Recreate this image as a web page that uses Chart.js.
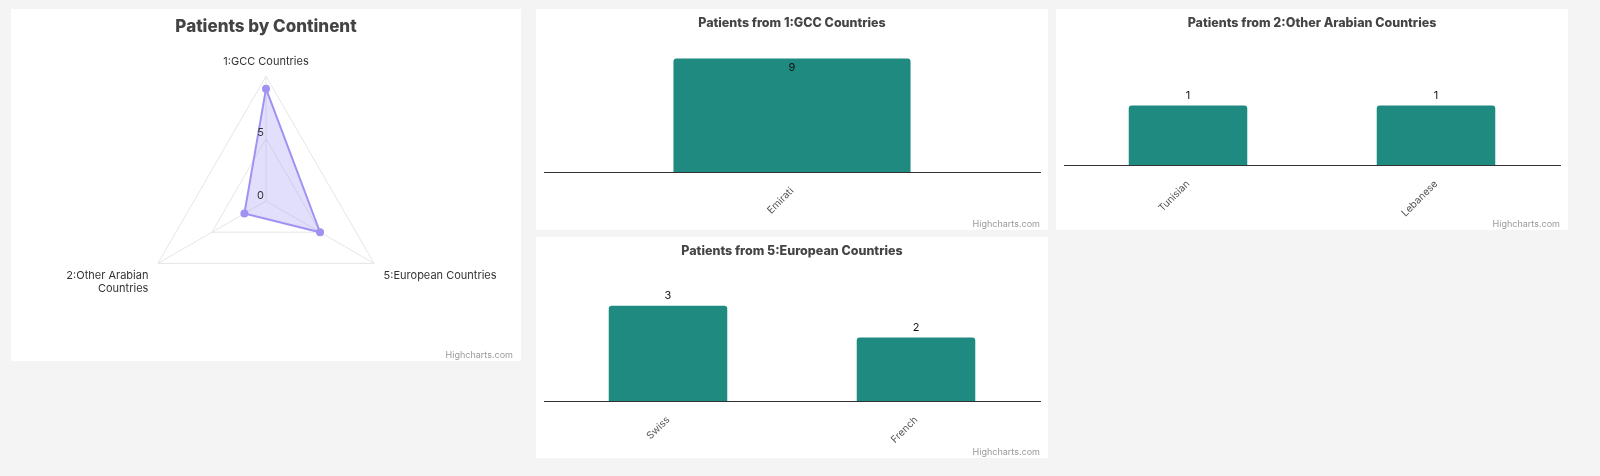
<!DOCTYPE html>
<html>
<head>
<meta charset="utf-8">
<script src="https://cdn.jsdelivr.net/npm/chart.js@4.4.1/dist/chart.umd.min.js"></script>
<style>
  body { margin: 0; background: #f4f4f4; width: 1600px; height: 476px; position: relative; overflow: hidden; font-family: Inter, sans-serif; }
  .panel { position: absolute; background: #fff; }
  .panel canvas { position: absolute; left: 0; top: 0; }
  .credit { position: absolute; right: 8px; bottom: 1px; font-size: 9px; color: #999; }
</style>
</head>
<body>
<div class="panel" style="left:11px;top:9px;width:510px;height:352px">
  <canvas id="radar" width="510" height="352"></canvas>
  <div class="credit">Highcharts.com</div>
</div>
<div class="panel" style="left:536px;top:9px;width:512px;height:221px">
  <canvas id="gcc" width="512" height="221"></canvas>
  <div class="credit">Highcharts.com</div>
</div>
<div class="panel" style="left:1056px;top:9px;width:512px;height:221px">
  <canvas id="arab" width="512" height="221"></canvas>
  <div class="credit">Highcharts.com</div>
</div>
<div class="panel" style="left:536px;top:237px;width:512px;height:221px">
  <canvas id="euro" width="512" height="221"></canvas>
  <div class="credit">Highcharts.com</div>
</div>
<script>
// continents (radar)
const continents = ['1:GCC Countries', '5:European Countries', ['2:Other Arabian', 'Countries']];
const continentPatients = [9, 5, 2];
const radarTickLabels = [0, 5];

// nationalities per continent
const gccNationalities = ['Emirati'];
const gccPatients = [9];
const arabNationalities = ['Tunisian', 'Lebanese'];
const arabPatients = [1, 1];
const euroNationalities = ['Swiss', 'French'];
const euroPatients = [3, 2];

const barColor = '#1e8a80';
const titleColor = '#444';

const radarTicks = {
  id: 'radarTicks',
  afterDatasetsDraw(chart) {
    const s = chart.scales.r;
    const ctx = chart.ctx;
    ctx.save();
    ctx.font = '11px Inter';
    ctx.fillStyle = '#333';
    ctx.textAlign = 'right';
    ctx.textBaseline = 'bottom';
    radarTickLabels.forEach(v => {
      const d = s.getDistanceFromCenterForValue(v);
      ctx.fillText(v, s.xCenter - 2, s.yCenter - d);
    });
    ctx.restore();
  }
};

new Chart(document.getElementById('radar'), {
  type: 'radar',
  data: {
    labels: continents,
    datasets: [{
      data: continentPatients,
      borderColor: '#9f92f2',
      backgroundColor: 'rgba(160,148,245,0.3)',
      borderWidth: 2,
      pointRadius: 4,
      pointBackgroundColor: '#9f92f2',
      pointBorderWidth: 0
    }]
  },
  options: {
    responsive: false,
    animation: false,
    layout: { padding: { top: 0, bottom: 23, left: 0, right: 0 } },
    plugins: {
      legend: { display: false },
      tooltip: { enabled: false },
      title: {
        display: true,
        text: 'Patients by Continent',
        color: titleColor,
        font: { family: 'Inter', size: 17, weight: '800' },
        padding: { top: 8, bottom: 7.6 }
      }
    },
    scales: {
      r: {
        min: 0,
        max: 10,
        ticks: { display: false, stepSize: 5 },
        grid: { color: '#e6e6e6' },
        angleLines: { color: '#e6e6e6' },
        pointLabels: {
          color: '#333',
          font: { family: 'Inter', size: 11 },
          padding: ctx => ctx.index === 0 ? 8 : 11
        }
      }
    }
  },
  plugins: [radarTicks]
});

const valueLabels = {
  id: 'valueLabels',
  afterDatasetsDraw(chart) {
    const ctx = chart.ctx;
    const meta = chart.getDatasetMeta(0);
    const vals = chart.data.datasets[0].data;
    ctx.save();
    ctx.font = '11px Inter';
    ctx.fillStyle = '#111';
    ctx.textAlign = 'center';
    ctx.textBaseline = 'middle';
    meta.data.forEach((bar, i) => {
      let y = bar.y - 10;
      if (y - 6 < chart.chartArea.top) y = bar.y + 9;
      ctx.fillText(vals[i], bar.x, y);
    });
    ctx.restore();
  }
};

function barChart(id, title, labels, values, yMax, axisHeight) {
  const titleSize = 12.5;
  return new Chart(document.getElementById(id), {
    type: 'bar',
    data: {
      labels: labels,
      datasets: [{
        data: values,
        backgroundColor: barColor,
        borderRadius: 3,
        barPercentage: 0.478,
        categoryPercentage: 1
      }]
    },
    options: {
      responsive: false,
      animation: false,
      layout: { padding: { left: 8, right: 8, top: 0, bottom: 0 } },
      plugins: {
        legend: { display: false },
        tooltip: { enabled: false },
        title: {
          display: true,
          text: title,
          color: titleColor,
          font: { family: 'Inter', size: titleSize, weight: '800' },
          padding: { top: 7, bottom: 37 - 7 - titleSize * 1.2 }
        }
      },
      scales: {
        x: {
          grid: { display: false, drawTicks: false },
          border: { display: true, color: '#333', width: 1 },
          ticks: { minRotation: 45, maxRotation: 45, color: '#555', font: { family: 'Inter', size: 10 }, padding: 13 },
          afterFit: s => { s.height = axisHeight; }
        },
        y: { display: false, min: 0, max: yMax }
      }
    },
    plugins: [valueLabels]
  });
}

barChart('gcc', 'Patients from 1:GCC Countries', gccNationalities, gccPatients, 10, 58);
barChart('arab', 'Patients from 2:Other Arabian Countries', arabNationalities, arabPatients, 2, 65);
barChart('euro', 'Patients from 5:European Countries', euroNationalities, euroPatients, 4, 57);
</script>
</body>
</html>
